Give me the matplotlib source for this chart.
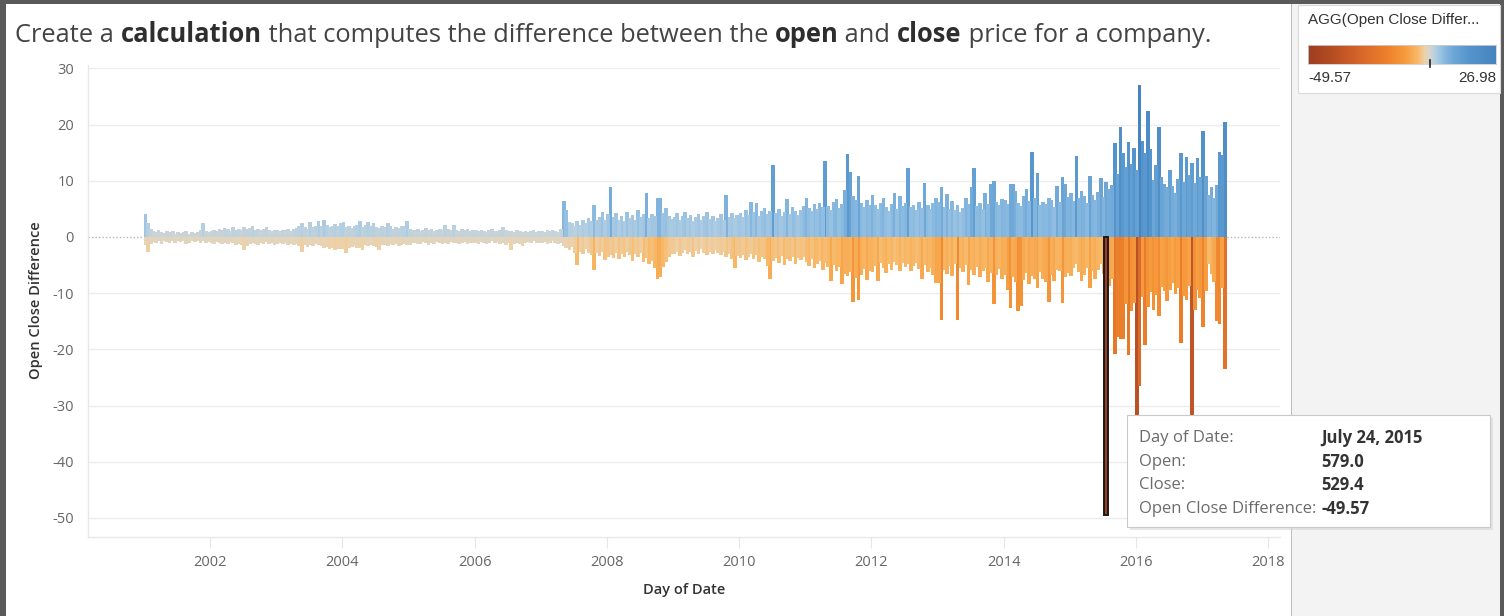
import numpy as np
import pandas as pd
import matplotlib
matplotlib.use("Agg")
import matplotlib.pyplot as plt
import matplotlib.dates as mdates
from matplotlib.colors import LinearSegmentedColormap, Normalize
from matplotlib.patches import Rectangle
from datetime import datetime

plt.rcParams['font.family'] = ['Open Sans', 'DejaVu Sans']

# half-month envelope of the daily open-close difference (largest rise / largest drop)
start = '2001-01-01'
ups = [
    # 2001
    4.1, 2.4, 1.4, 1.0, 0.8, 1.2, 0.9, 0.7, 1.1, 0.8, 1.0, 0.6, 0.9, 0.7, 0.8, 1.0, 0.6, 0.8, 0.7, 0.9, 1.2, 2.4, 1.0, 0.8,
    # 2002
    1.0, 1.3, 1.1, 1.5, 1.2, 1.6, 1.4, 1.1, 1.7, 1.3, 1.5, 1.2, 1.8, 1.4, 1.6, 1.9, 1.3, 1.5, 1.2, 1.4, 1.7, 1.2, 1.0, 1.3,
    # 2003
    1.2, 1.0, 1.3, 1.2, 1.5, 1.1, 1.4, 1.6, 1.9, 2.4, 1.7, 1.5, 2.6, 1.8, 2.0, 2.8, 1.9, 3.1, 2.2, 1.8, 2.0, 2.3, 1.9, 2.4,
    # 2004
    2.6, 1.8, 2.0, 1.6, 1.9, 2.2, 2.8, 1.7, 2.1, 2.7, 1.9, 2.4, 1.8, 1.6, 2.0, 1.7, 2.5, 1.9, 1.5, 1.8, 1.6, 2.0, 1.9, 2.9,
    # 2005
    1.5, 1.3, 1.2, 1.4, 1.1, 1.3, 1.6, 1.2, 1.4, 1.0, 1.3, 1.5, 1.2, 2.1, 1.4, 1.3, 2.1, 1.2, 1.1, 1.4, 1.2, 1.5, 1.1, 1.3,
    # 2006
    1.2, 1.0, 1.3, 1.1, 0.9, 1.2, 1.4, 1.0, 1.1, 1.3, 1.8, 1.2, 1.0, 1.1, 0.9, 1.2, 1.0, 0.8, 1.1, 0.9, 1.0, 1.2, 0.9, 1.1,
    # 2007
    1.1, 0.9, 1.2, 1.0, 1.3, 1.1, 0.9, 1.4, 6.4, 4.8, 2.7, 2.4, 2.0, 2.8, 2.2, 3.0, 2.5, 3.4, 2.9, 5.6, 3.1, 3.6, 4.4, 3.0,
    # 2008
    4.0, 8.8, 3.5, 4.2, 3.0, 3.8, 2.9, 4.5, 3.3, 3.9, 3.1, 4.8, 3.6, 4.0, 7.9, 3.4, 4.1, 3.7, 7.0, 7.0, 4.3, 5.1, 3.8, 3.2,
    # 2009
    3.6, 4.2, 3.1, 3.8, 4.5, 3.3, 3.9, 2.8, 3.5, 4.1, 3.0, 3.7, 4.4, 3.2, 3.8, 2.9, 3.4, 4.0, 3.1, 7.5, 3.6, 4.2, 3.3, 3.9,
    # 2010
    4.2, 3.6, 4.8, 3.9, 6.2, 4.4, 6.0, 3.8, 4.6, 5.2, 4.0, 4.7, 12.8, 4.3, 5.0, 3.7, 4.5, 6.8, 4.1, 5.3, 4.6, 3.9, 4.8, 5.5,
    # 2011
    7.0, 5.2, 4.6, 5.8, 4.9, 6.1, 5.3, 13.5, 5.5, 4.8, 6.2, 6.8, 5.1, 5.9, 8.4, 14.7, 11.6, 7.2, 6.5, 10.8, 6.0, 5.4, 6.6, 5.7,
    # 2012
    7.5, 5.6, 4.9, 6.0, 7.0, 5.3, 4.7, 5.8, 7.9, 5.0, 7.2, 5.5, 6.1, 12.2, 5.4, 5.6, 4.8, 6.3, 5.2, 9.6, 5.7, 4.9, 6.0, 6.9,
    # 2013
    6.2, 8.9, 5.4, 7.6, 5.0, 6.4, 4.8, 5.7, 4.5, 5.2, 7.0, 5.9, 8.8, 12.3, 5.5, 6.1, 4.9, 7.9, 5.8, 9.4, 10.0, 6.3, 5.6, 6.8,
    # 2014
    6.5, 5.8, 9.4, 9.4, 8.2, 6.0, 5.5, 7.3, 8.5, 6.4, 15.2, 6.9, 11.4, 5.7, 6.3, 5.9, 7.0, 6.6, 5.4, 9.1, 6.2, 10.6, 9.4, 7.1,
    # 2015
    7.8, 6.4, 14.4, 6.9, 8.2, 7.3, 6.0, 10.9, 7.5, 6.6, 8.0, 10.5, 7.1, 9.7, 8.6, 9.3, 16.7, 11.2, 19.5, 14.9, 12.4, 16.9, 13.0, 15.8,
    # 2016
    12.0, 26.98, 17.0, 15.0, 22.5, 15.7, 10.2, 12.8, 19.6, 10.6, 9.5, 8.8, 11.9, 9.0, 7.9, 10.4, 14.9, 9.8, 14.2, 11.0, 13.2, 9.6, 14.1, 10.7,
    # 2017
    18.8, 10.9, 7.5, 8.8, 6.9, 9.2, 15.2, 14.6, 20.5,
]
downs = [
    # 2001
    -1.4, -2.6, -1.2, -0.9, -1.0, -0.8, -1.3, -0.7, -0.9, -1.1, -0.8, -1.0, -0.7, -0.9, -0.8, -1.2, -1.0, -0.7, -0.9, -0.8, -1.0, -0.8, -1.1, -0.9,
    # 2002
    -1.0, -1.2, -0.9, -1.1, -1.3, -1.0, -1.2, -0.9, -1.1, -1.4, -1.2, -1.5, -2.3, -1.6, -1.2, -1.0, -1.3, -1.4, -1.1, -1.2, -0.9, -1.3, -1.0, -1.4,
    # 2003
    -1.2, -1.0, -1.3, -1.1, -1.5, -1.2, -1.4, -1.2, -1.6, -2.6, -1.5, -1.8, -1.4, -1.6, -1.3, -1.5, -1.7, -2.0, -1.8, -2.2, -2.0, -2.4, -2.1, -2.2,
    # 2004
    -2.2, -2.9, -2.0, -1.8, -1.6, -2.0, -1.9, -2.3, -1.5, -1.7, -1.4, -1.6, -1.8, -2.3, -1.5, -1.4, -1.7, -1.3, -1.5, -1.2, -1.6, -1.4, -1.3, -1.4,
    # 2005
    -1.4, -1.1, -1.0, -1.3, -1.2, -0.9, -1.1, -1.4, -1.0, -1.2, -0.9, -1.1, -1.3, -1.0, -1.2, -0.9, -1.1, -1.0, -1.3, -1.1, -0.9, -1.2, -1.0, -1.1,
    # 2006
    -1.0, -1.2, -0.9, -1.1, -1.3, -1.0, -0.8, -1.1, -0.9, -1.2, -1.0, -1.4, -1.1, -2.3, -1.2, -1.0, -1.3, -1.7, -1.1, -0.9, -1.0, -0.8, -1.1, -1.0,
    # 2007
    -1.1, -0.9, -1.2, -1.0, -0.8, -1.1, -1.3, -1.0, -1.7, -2.0, -2.4, -1.8, -2.9, -5.0, -2.6, -3.0, -2.2, -2.8, -3.3, -5.8, -2.9, -3.4, -2.7, -4.1,
    # 2008
    -3.6, -3.2, -3.8, -2.9, -4.0, -3.1, -3.6, -2.7, -3.3, -4.2, -3.0, -3.5, -2.8, -4.5, -3.7, -4.9, -4.2, -5.5, -7.4, -7.1, -5.3, -4.4, -3.6, -3.0,
    # 2009
    -3.0, -2.6, -3.4, -2.9, -2.4, -3.1, -2.7, -3.5, -2.5, -3.0, -2.2, -2.8, -3.3, -2.6, -3.0, -2.4, -2.9, -3.2, -2.7, -3.6, -3.1, -4.0, -5.6, -3.4,
    # 2010
    -3.8, -3.2, -4.1, -3.5, -3.0, -3.9, -3.3, -4.4, -3.6, -4.0, -5.2, -7.4, -4.3, -3.7, -4.6, -3.4, -5.0, -3.9, -4.2, -3.5, -4.8, -3.8, -4.1, -3.6,
    # 2011
    -4.5, -5.2, -4.0, -5.6, -4.8, -4.2, -5.9, -4.6, -5.3, -7.9, -5.0, -6.1, -5.4, -8.4, -6.6, -7.0, -6.2, -11.5, -7.3, -11.2, -6.8, -5.7, -7.6, -6.0,
    # 2012
    -6.3, -5.1, -7.8, -4.6, -5.5, -6.5, -4.9, -5.8, -4.4, -5.0, -6.0, -4.7, -5.4, -4.8, -6.1, -5.2, -4.6, -5.7, -7.5, -5.0, -6.2, -5.5, -6.8, -8.2,
    # 2013
    -8.2, -14.7, -5.8, -6.6, -5.2, -7.0, -4.9, -14.7, -5.6, -6.3, -5.0, -8.5, -5.9, -6.7, -5.4, -7.2, -6.0, -5.5, -8.0, -6.4, -12.0, -6.8, -5.7, -7.4,
    # 2014
    -6.8, -9.5, -12.6, -7.2, -8.1, -13.2, -12.3, -7.7, -6.5, -8.3, -6.9, -7.5, -9.0, -6.2, -7.4, -8.0, -11.6, -6.7, -7.9, -5.8, -6.0, -11.8, -7.1, -6.4,
    # 2015
    -7.0, -5.6, -4.9, -6.3, -7.9, -6.8, -5.5, -9.0, -6.1, -7.4, -5.9, -4.9, -6.6, -49.57, -8.8, -7.5, -20.9, -17.8, -18.2, -18.1, -12.0, -21.0, -13.2, -11.8,
    # 2016
    -38.0, -26.5, -10.6, -19.3, -12.5, -9.8, -13.0, -10.4, -14.0, -8.9, -9.6, -11.4, -9.4, -8.2, -10.1, -9.0, -18.8, -10.5, -11.2, -8.7, -36.0, -13.0, -9.5, -10.8,
    # 2017
    -16.1, -9.7, -4.9, -6.6, -8.0, -15.0, -15.5, -9.1, -23.5,
]

year_ticks = [2002, 2004, 2006, 2008, 2010, 2012, 2014, 2016, 2018]
y_ticks = [30, 20, 10, 0, -10, -20, -30, -40, -50]

tip_labels = ['Day of Date:', 'Open:', 'Close:', 'Open Close Difference:']
tip_values = ['July 24, 2015', '579.0', '529.4', '-49.57']
sel_value = -49.57

vmin, vmax = min(downs), max(ups)

# orange-blue diverging scale, centred on zero
stops = [(-49.57, '#9e3d22'), (-40, '#b44d22'), (-30, '#d3622a'), (-18, '#ec7f2a'),
         (-10, '#f69b3d'), (-5, '#f8b866'), (-2, '#ecd2ac'), (0, '#d8d6ce'),
         (2.5, '#b3cfe3'), (6, '#88b9e0'), (10, '#6ca6d6'), (16, '#5595cd'), (26.98, '#4684bf')]
cmap = LinearSegmentedColormap.from_list(
    'orange_blue', [((v - vmin) / (vmax - vmin), c) for v, c in stops])
norm = Normalize(vmin, vmax)

W, H = 1504, 616
fig = plt.figure(figsize=(W / 100, H / 100), dpi=100)
fig.patch.set_facecolor('white')


def fx(px):
    return px / W


def fy(py):
    return 1 - py / H


def frect(x0, y0, x1, y1, **kw):
    fig.patches.append(Rectangle((fx(x0), fy(y1)), fx(x1) - fx(x0), fy(y0) - fy(y1),
                                 transform=fig.transFigure, **kw))


# frame and side panel
frect(0, 0, 6, H, facecolor='#5a5a5a', edgecolor='none', zorder=0)
frect(0, 0, W, 4, facecolor='#5a5a5a', edgecolor='none', zorder=0)
frect(1292, 4, W, H, facecolor='#f3f3f3', edgecolor='none', zorder=0)
frect(1290.5, 4, 1291.5, H, facecolor='#bdbdbd', edgecolor='none', zorder=1)
frect(1500, 0, W, H, facecolor='#5a5a5a', edgecolor='none', zorder=1)

ax = fig.add_axes([fx(88), fy(537), fx(1280) - fx(88), fy(65) - fy(537)])

dates = pd.date_range(start, periods=len(ups), freq='SMS') + pd.Timedelta(days=7)
xnum = mdates.date2num(dates.to_pydatetime())
xs = np.concatenate([xnum, xnum])
vals = np.concatenate([np.array(ups), np.array(downs)])
# biggest moves first so the small ones sit on top near zero
order = np.argsort(-np.abs(vals), kind='stable')
ax.bar(xs[order], vals[order], width=20, color=cmap(norm(vals[order])),
       linewidth=0, zorder=3)

# highlighted mark
sel_x = xnum[int(np.argmin(downs))]
ax.bar([sel_x], [sel_value], width=20, facecolor='none', edgecolor='#1a1a1a',
       linewidth=1.4, zorder=5)

ax.set_xlim(mdates.date2num(datetime(2000, 2, 26)), mdates.date2num(datetime(2018, 3, 8)))
ax.set_ylim(-53.4, 30.6)

for yv in y_ticks:
    if yv != 0:
        ax.axhline(yv, color='#ececec', linewidth=1, zorder=1)
ax.axhline(0, color='#b5b5b5', linewidth=1, linestyle=(0, (1, 1.5)), zorder=2)

ax.set_yticks(y_ticks)
ax.set_yticklabels([str(t) for t in y_ticks])
ax.set_xticks([mdates.date2num(datetime(y, 1, 1)) for y in year_ticks])
ax.set_xticklabels([str(y) for y in year_ticks])
ax.tick_params(axis='y', length=0, pad=10, labelsize=10.5, labelcolor='#666666')
ax.tick_params(axis='x', length=8, width=0.8, color='#e6e6e6', pad=5,
               labelsize=10.5, labelcolor='#666666')
for s in ['top', 'right']:
    ax.spines[s].set_visible(False)
for s in ['left', 'bottom']:
    ax.spines[s].set_color('#e8e8e8')
    ax.spines[s].set_linewidth(1)

fig.text(fx(36), fy(300), 'Open Close Difference', rotation=90, ha='center', va='center',
         fontsize=10.5, fontweight='semibold', color='#333333')
fig.text(fx(684), fy(590), 'Day of Date', ha='center', va='center',
         fontsize=10.5, fontweight='semibold', color='#333333')

# title with bold keywords
renderer = fig.canvas.get_renderer()
parts = [('Create a ', 'normal'), ('calculation', 'bold'),
         (' that computes the difference between the ', 'normal'), ('open', 'bold'),
         (' and ', 'normal'), ('close', 'bold'), (' price for a company.', 'normal')]
xpos = 15
for txt, wt in parts:
    t = fig.text(fx(xpos), fy(35), txt, ha='left', va='center', fontsize=18.4,
                 fontweight=wt, color='#2e2e2e' if wt == 'bold' else '#444444')
    xpos += t.get_window_extent(renderer).width

# colour legend
frect(1298, 5, 1500, 93, facecolor='white', edgecolor='#dadada', linewidth=0.8, zorder=2)
fig.text(fx(1308), fy(20), 'AGG(Open Close Differ...', ha='left', va='center',
         fontsize=11, color='#333333', family=['Liberation Sans', 'DejaVu Sans'], zorder=4)
cax = fig.add_axes([fx(1308), fy(64), fx(1496) - fx(1308), fy(45) - fy(64)])
cax.set_zorder(5)
cax.imshow(np.linspace(vmin, vmax, 256)[None, :], cmap=cmap, norm=norm, aspect='auto',
           extent=[vmin, vmax, 0, 1])
cax.set_xticks([])
cax.set_yticks([])
for s in cax.spines.values():
    s.set_color('#cfcfcf')
    s.set_linewidth(0.6)
zx = fx(1308) + (0 - vmin) / (vmax - vmin) * (fx(1496) - fx(1308))
fig.add_artist(plt.Line2D([zx, zx], [fy(60), fy(67)], color='#222222', linewidth=1.2,
                          transform=fig.transFigure, zorder=6))
fig.text(fx(1308), fy(78), f'{vmin:.2f}', ha='left', va='center', fontsize=11, color='#333333',
         family=['Liberation Sans', 'DejaVu Sans'], zorder=4)
fig.text(fx(1496), fy(78), f'{vmax:.2f}', ha='right', va='center', fontsize=11, color='#333333',
         family=['Liberation Sans', 'DejaVu Sans'], zorder=4)

# tooltip
frect(1130, 418, 1493, 530, facecolor='#d8d8d8', edgecolor='none', alpha=0.6, zorder=8)
frect(1127, 415, 1490, 527, facecolor='white', edgecolor='#c9c9c9', linewidth=0.8, zorder=9)
for i, (lab, val) in enumerate(zip(tip_labels, tip_values)):
    yy = fy(438 + i * 23.7)
    fig.text(fx(1139), yy, lab, ha='left', va='center', fontsize=12, color='#6b6b6b', zorder=10)
    fig.text(fx(1321), yy, val, ha='left', va='center', fontsize=12, fontweight='bold',
             color='#333333', zorder=10)

fig.savefig('out.png', dpi=100, facecolor=fig.get_facecolor())
